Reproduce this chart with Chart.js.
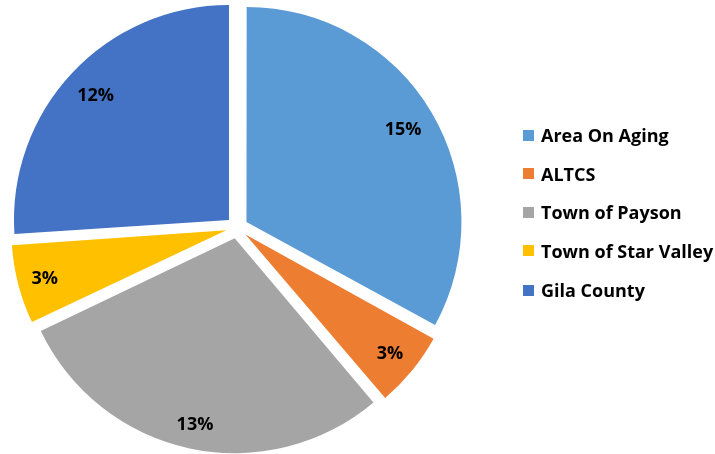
<!DOCTYPE html>
<html>
<head>
<meta charset="utf-8">
<script src="https://cdn.jsdelivr.net/npm/chart.js@4"></script>
<style>
  body { margin: 0; background: #fff; }
  .wrap { position: relative; width: 715px; height: 454px; }
  #legend { position: absolute; left: 523px; top: 0; font-family: "Open Sans", sans-serif; font-weight: bold; font-size: 18px; color: #000; }
  #legend div { position: absolute; left: 0; white-space: nowrap; display: flex; align-items: center; height: 24px; line-height: 24px; }
  #legend span.box { display: inline-block; width: 11px; height: 11px; margin-right: 7px; }
</style>
</head>
<body>
<div class="wrap">
  <canvas id="chart" width="715" height="454"></canvas>
  <div id="legend"></div>
</div>
<script>
const categories = ["Area On Aging", "ALTCS", "Town of Payson", "Town of Star Valley", "Gila County"];
// slice sizes; labels show them rounded
const values = [15.2, 2.7, 13.4, 2.8, 12.0];
const colors = ["#5B9BD5", "#ED7D31", "#A5A5A5", "#FFC000", "#4472C4"];

const RADIUS = 215;
const EXPLODE = 44; // chart.js moves each slice by offset / 4

// chart.js grows small exploded slices a bit, undo that so all share one radius
const evenRadius = {
  id: "evenRadius",
  afterDatasetsUpdate(chart) {
    chart.getDatasetMeta(0).data.forEach((arc) => {
      const fix = 1 - Math.sin(Math.min(Math.PI, arc.circumference));
      arc.outerRadius = RADIUS - (EXPLODE / 4) * fix;
    });
  }
};

// percent labels at the inside end of each slice
const sliceLabels = {
  id: "sliceLabels",
  afterDatasetsDraw(chart) {
    const ctx = chart.ctx;
    const meta = chart.getDatasetMeta(0);
    ctx.save();
    ctx.font = "bold 18px 'Open Sans', sans-serif";
    ctx.fillStyle = "#000";
    ctx.textAlign = "center";
    ctx.textBaseline = "middle";
    meta.data.forEach((arc, i) => {
      const { x, y, startAngle, endAngle } = arc;
      const mid = (startAngle + endAngle) / 2;
      const text = Math.round(values[i]) + "%";
      const w = ctx.measureText(text).width;
      const c = Math.cos(mid), s = Math.sin(mid);
      const reach = (w / 2) * Math.abs(c) + 10 * Math.abs(s);
      const r = RADIUS - 12 - reach + EXPLODE / 4;
      ctx.fillText(text, x + c * r, y + s * r + 1);
    });
    ctx.restore();
  }
};

new Chart(document.getElementById("chart"), {
  type: "pie",
  data: {
    labels: categories,
    datasets: [{
      data: values,
      backgroundColor: colors,
      borderWidth: 0,
      offset: EXPLODE,
      hoverOffset: EXPLODE,
    }],
  },
  options: {
    responsive: false,
    animation: false,
    radius: RADIUS,
    layout: { padding: { left: 0, right: 241, top: 1, bottom: 0 } },
    plugins: {
      legend: { display: false },
      tooltip: { enabled: false },
    },
  },
  plugins: [evenRadius, sliceLabels],
});

const legend = document.getElementById("legend");
const rowCenters = [135, 173.5, 212, 250.5, 290];
categories.forEach((name, i) => {
  const row = document.createElement("div");
  row.style.top = (rowCenters[i] - 12) + "px";
  row.innerHTML = '<span class="box" style="background:' + colors[i] + '"></span>' + name;
  legend.appendChild(row);
});
</script>
</body>
</html>
